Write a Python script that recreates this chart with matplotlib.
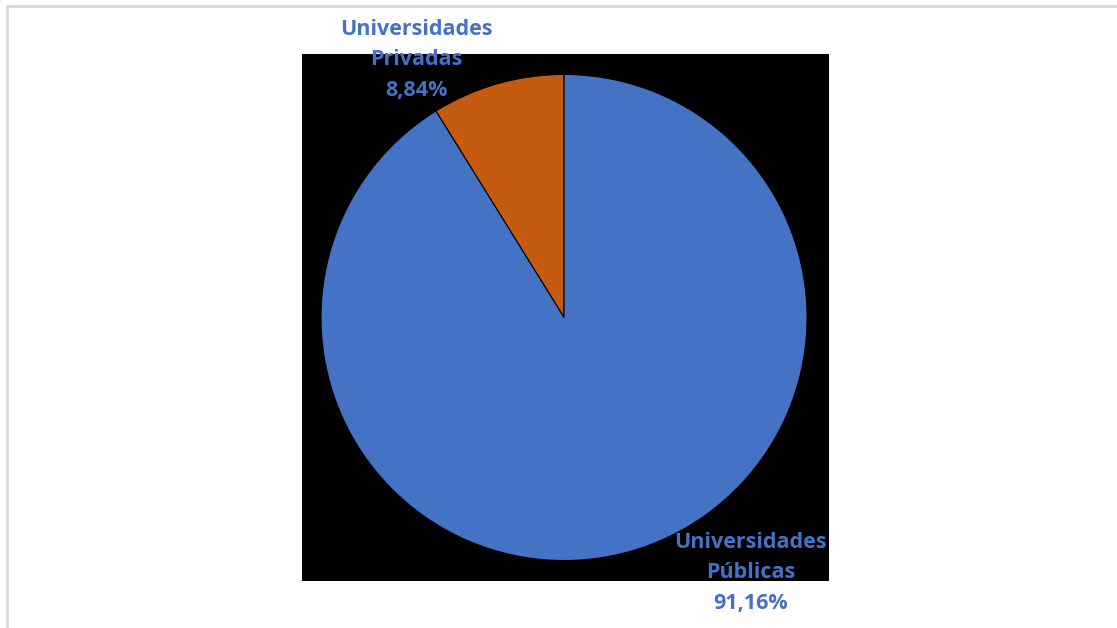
import matplotlib
matplotlib.use("Agg")
import matplotlib.pyplot as plt
from matplotlib.patches import Rectangle

categories = ["Universidades\nPrivadas", "Universidades\nPúblicas"]
values = [8.84, 91.16]
pct_labels = ["8,84%", "91,16%"]
colors = ["#C55A11", "#4472C4"]
label_color = "#4472C4"

W, H = 1117, 628
fig = plt.figure(figsize=(W / 100, H / 100), dpi=100)
fig.patch.set_facecolor("white")

# light grey outer frame (top and left edges visible)
fig.patches.append(Rectangle((7 / W, -0.2), 1.5, 1.2 - 6 / H,
                             transform=fig.transFigure, fill=False,
                             edgecolor="#D9D9D9", linewidth=2.0))

ax = fig.add_axes([301 / W, (H - 581) / H, 528 / W, 527 / H])
wedges, _ = ax.pie(values, colors=colors, startangle=90, counterclock=True,
                   radius=1.0, center=(0, 0), frame=True,
                   wedgeprops=dict(edgecolor="black", linewidth=0.8))
ax.set_facecolor("black")
ax.patch.set_visible(True)
r = 264 / 243.5
ax.set_xlim(-r + 0.004, r + 0.004)
ax.set_ylim(-r, r)
ax.set_aspect("equal")
for s in ax.spines.values():
    s.set_visible(False)
ax.set_xticks([])
ax.set_yticks([])

label_pos = [(-0.608, 1.06), (0.768, -1.051)]
for cat, pct, (x, y) in zip(categories, pct_labels, label_pos):
    ax.text(x, y, f"{cat}\n{pct}", ha="center", va="center",
            color=label_color, fontsize=15.5, fontweight="bold",
            family=["Open Sans", "DejaVu Sans"], linespacing=1.6,
            clip_on=False)

fig.savefig("out.png", dpi=100)
